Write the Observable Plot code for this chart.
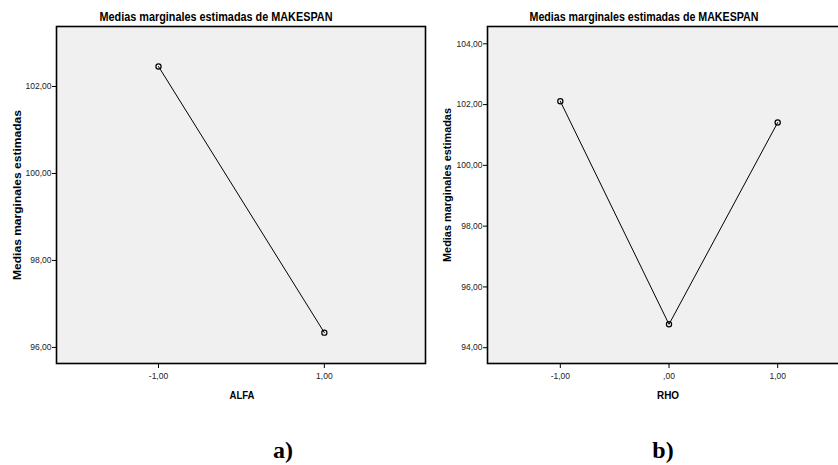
<!DOCTYPE html>
<html>
<head>
<meta charset="utf-8">
<script src="https://cdn.jsdelivr.net/npm/d3@7"></script>
<script src="https://cdn.jsdelivr.net/npm/@observablehq/plot@0.6"></script>
<style>
  html, body { margin: 0; padding: 0; background: #fff; }
  #wrap { position: relative; width: 838px; height: 465px; overflow: hidden; background: #fff; }
  #wrap > svg, #wrap > figure { position: absolute; top: 0; margin: 0; }
  .ann { font-weight: bold; fill: #000; }
</style>
</head>
<body>
<div id="wrap"></div>
<script>
// ---- data ----
const titleText = "Medias marginales estimadas de MAKESPAN";
const yLabelText = "Medias marginales estimadas";

const alfaLevels = [-1, 1];
const alfaMeans = [102.46, 96.34];
const alfaYTicks = [96, 98, 100, 102];
const alfaXTicks = [-1, 1];
const alfaXTickLabels = ["-1,00", "1,00"];

const rhoLevels = [-1, 0, 1];
const rhoMeans = [102.11, 94.77, 101.41];
const rhoYTicks = [94, 96, 98, 100, 102, 104];
const rhoXTicks = [-1, 0, 1];
const rhoXTickLabels = ["-1,00", ",00", "1,00"];

const fmtY = d => d.toFixed(2).replace(".", ",");

function panel({levels, means, yTicks, xTicks, xTickLabels, xDomain, yDomain, width, marginLeft, marginRight}) {
  const data = levels.map((l, i) => ({x: l, y: means[i]}));
  const labelOf = new Map(xTicks.map((t, i) => [t, xTickLabels[i]]));
  return Plot.plot({
    width, height: 465,
    marginLeft, marginRight, marginTop: 26, marginBottom: 102,
    style: {fontFamily: "'Liberation Sans', Arial, sans-serif", background: "transparent", overflow: "visible"},
    x: {domain: xDomain},
    y: {domain: yDomain},
    marks: [
      Plot.frame({fill: "#f0f0f0", stroke: "#000", strokeWidth: 1.6}),
      Plot.axisY({ticks: yTicks, tickFormat: fmtY, tickSize: 4, tickPadding: 1, fontSize: 8.5, fill: "#222", stroke: "#000", label: null}),
      Plot.axisX({ticks: xTicks, tickFormat: d => labelOf.get(d), tickSize: 5, tickPadding: 4, fontSize: 8.5, fill: "#222", stroke: "#000", label: null}),
      Plot.line(data, {x: "x", y: "y", stroke: "#000", strokeWidth: 1}),
      Plot.dot(data, {x: "x", y: "y", r: 2.6, stroke: "#000", fill: "none", strokeWidth: 1.2})
    ]
  });
}

const wrap = document.getElementById("wrap");

const left = panel({levels: alfaLevels, means: alfaMeans, yTicks: alfaYTicks, xTicks: alfaXTicks, xTickLabels: alfaXTickLabels,
  xDomain: [-2.23, 2.22], yDomain: [95.63, 103.38], width: 440, marginLeft: 56, marginRight: 15});
left.style.left = "0px";
wrap.appendChild(left);

const right = panel({levels: rhoLevels, means: rhoMeans, yTicks: rhoYTicks, xTicks: rhoXTicks, xTickLabels: rhoXTickLabels,
  xDomain: [-1.67, 1.67], yDomain: [93.48, 104.57], width: 420, marginLeft: 57, marginRight: 0});
right.style.left = "430px";
wrap.appendChild(right);

// ---- annotation overlay (titles, axis labels, panel letters) ----
const ns = "http://www.w3.org/2000/svg";
const ov = document.createElementNS(ns, "svg");
ov.setAttribute("width", 838); ov.setAttribute("height", 465);
ov.style.left = "0px"; ov.style.pointerEvents = "none";
const SANS = "'Liberation Sans', Arial, sans-serif";
const SERIF = "'Liberation Serif', 'Times New Roman', serif";
function txt(s, x, y, size, opts = {}) {
  const t = document.createElementNS(ns, "text");
  t.setAttribute("class", "ann");
  t.setAttribute("x", x); t.setAttribute("y", y);
  t.setAttribute("font-size", size);
  t.setAttribute("text-anchor", "middle");
  t.style.fontFamily = opts.family || SANS;
  if (opts.len) { t.setAttribute("textLength", opts.len); t.setAttribute("lengthAdjust", "spacingAndGlyphs"); }
  if (opts.rot) t.setAttribute("transform", `rotate(-90 ${x} ${y})`);
  t.textContent = s;
  ov.appendChild(t);
}
txt(titleText, 216, 21, 12.5, {len: 233});
txt(titleText, 644, 21, 12.5, {len: 229});
txt(yLabelText, 21, 195, 11, {len: 170, rot: true});
txt(yLabelText, 451, 185, 10, {len: 154, rot: true});
txt("ALFA", 242, 399, 11.5, {len: 25});
txt("RHO", 668, 399, 11.5, {len: 22});
txt("a)", 283, 458, 24, {family: SERIF});
txt("b)", 663, 458, 24, {family: SERIF});
wrap.appendChild(ov);
</script>
</body>
</html>
